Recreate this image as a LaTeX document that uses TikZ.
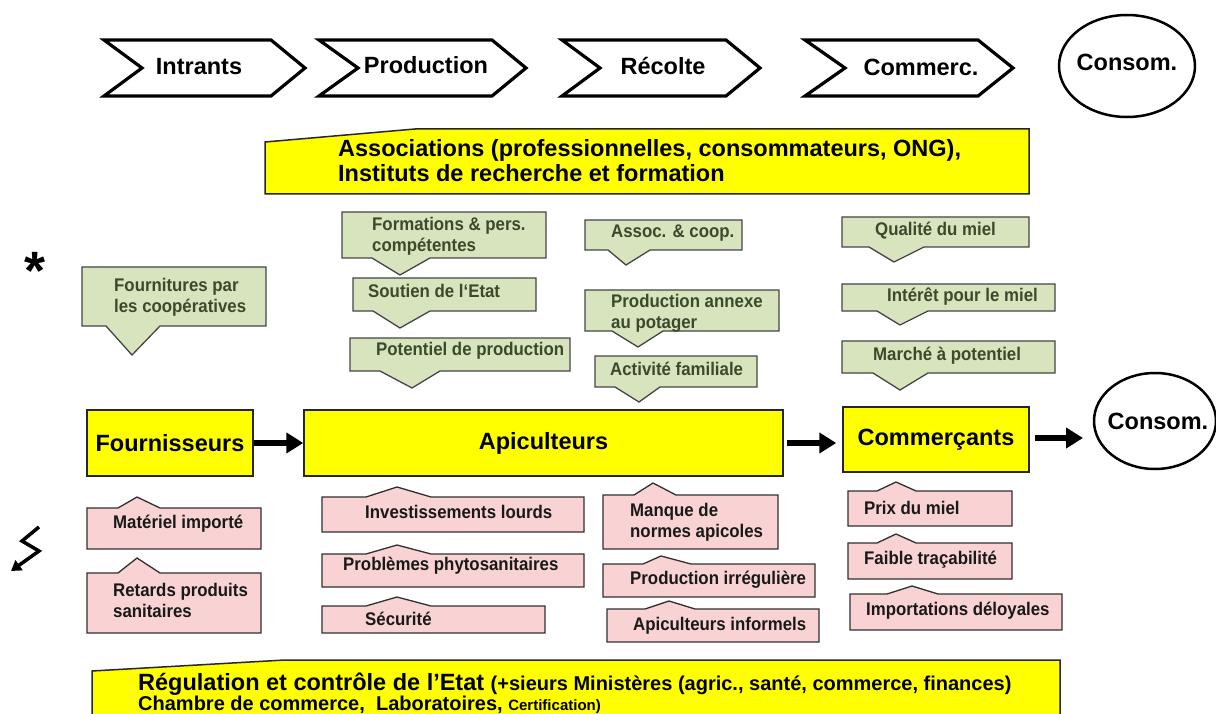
\documentclass[tikz,border=0pt]{standalone}
\usepackage{fontspec}
\setmainfont{Liberation Sans}
\newfontfamily\narrowfont[FakeStretch=0.92]{Liberation Sans}
\usetikzlibrary{arrows.meta,shapes.geometric}
\definecolor{gfill}{HTML}{D7E4BD}
\definecolor{gtext}{HTML}{3B4A2C}
\definecolor{gline}{HTML}{454545}
\definecolor{pfill}{HTML}{F9D3D3}
\definecolor{pline}{HTML}{303030}
\definecolor{ylw}{HTML}{FFFF00}
\newcommand\gcallshape[8]{\draw[gcall] (#1,#2) -- (#3,#2) -- (#3,#4) -- (#8,#4) -- (#6,#7) -- (#5,#4) -- (#1,#4) -- cycle;}
\newcommand\pcallshape[8]{\draw[pcall] (#1,#2) -- (#5,#2) -- (#6,#7) -- (#8,#2) -- (#3,#2) -- (#3,#4) -- (#1,#4) -- cycle;}
\tikzset{
  chev/.style={draw=black, line width=3.2pt, line join=miter, fill=white},
  ybox/.style={draw=black!85, line width=1.5pt, fill=ylw},
  gcall/.style={draw=gline, line width=1.3pt, fill=gfill, line join=miter},
  pcall/.style={draw=pline, line width=1.3pt, fill=pfill, line join=miter},
  big/.style={font=\fontsize{23.5}{27}\selectfont\bfseries, inner sep=0pt},
  gtxt/.style={font=\narrowfont\fontsize{18.3}{21}\selectfont\bfseries, text=gtext, inner sep=0pt, anchor=west, align=left},
  ptxt/.style={font=\narrowfont\fontsize{18.3}{21}\selectfont\bfseries, text=black!90, inner sep=0pt, anchor=west, align=left},
  flow/.style={line width=6pt, -{Triangle[length=17pt,width=20pt]}},
  cons/.style={draw=black, line width=2.5pt, ellipse, fill=white, inner sep=0pt},
}
\begin{document}
\begin{tikzpicture}[x=1pt,y=-1pt]
\useasboundingbox (0,0) rectangle (1216,714);
\clip (0,0) rectangle (1216,714);
% ---- top chevrons
\draw[chev] (104,40) -- (271,40) -- (305,68) -- (271,96) -- (104,96) -- (142,68) -- cycle;
\node[big] (intr) at (199,67) {Intrants};
\draw[chev] (319,40) -- (492,40) -- (526,68) -- (492,96) -- (319,96) -- (358,68) -- cycle;
\node[big] (prod) at (426,65) {Production};
\draw[chev] (562,40) -- (726,40) -- (760,68) -- (726,96) -- (562,96) -- (600,68) -- cycle;
\node[big] (reco) at (663,66) {Récolte};
\draw[chev] (805,40) -- (978,40) -- (1013,68) -- (978,96) -- (805,96) -- (845,68) -- cycle;
\node[big] (comc) at (921,67) {Commerc.};
\node[cons, minimum width=136pt, minimum height=102pt] (cons1) at (1127,66) {};
\node[big] (cons1t) at (1127,62) {Consom.};
% ---- associations banner
\draw[ybox] (265,142) -- (415,129) -- (1029,129) -- (1029,194) -- (265,194) -- cycle;
\node[big, anchor=west, align=left, font=\fontsize{23.5}{25}\selectfont\bfseries] (assoc) at (338,161)
  {Associations (professionnelles, consommateurs, ONG),\\Instituts de recherche et formation};
% ---- green callouts
\gcallshape{82}{267}{266}{326}{106}{132}{355}{160}
\node[gtxt] (g1) at (114,297) {Fournitures par\\les coopératives};
\gcallshape{342}{212}{546}{258}{372}{400}{275}{430}
\node[gtxt] (g2) at (372,236) {Formations \& pers.\\compétentes};
\gcallshape{353}{278}{536}{311}{373}{400}{328}{430}
\node[gtxt] (g3) at (368,291) {Soutien de l‘Etat};
\gcallshape{350}{338}{570}{371}{380}{412}{388}{440}
\node[gtxt] (g4) at (376,351) {Potentiel de production};
\gcallshape{585}{220}{742}{250}{608}{626}{265}{650}
\node[gtxt] (g5) at (611,233) {Assoc. \& coop.};
\gcallshape{585}{290}{779}{331}{612}{638}{347}{663}
\node[gtxt] (g6) at (611,313) {Production annexe\\au potager};
\gcallshape{595}{356}{757}{387}{615}{639}{402}{660}
\node[gtxt] (g7) at (610,369) {Activité familiale};
\gcallshape{842}{217}{1029}{247}{869}{894}{262}{924}
\node[gtxt] (g8) at (875,231) {Qualité du miel};
\gcallshape{842}{284}{1055}{311}{877}{900}{325}{928}
\node[gtxt] (g9) at (887,297) {Intérêt pour le miel};
\gcallshape{842}{341}{1055}{373}{873}{900}{390}{928}
\node[gtxt] (g10) at (873,356) {Marché à potentiel};
% ---- middle chain
\node[ybox, big, minimum width=166pt, minimum height=66pt] (four) at (170,443) {Fournisseurs};
\node[ybox, big, minimum width=479pt, minimum height=66pt] (api) at (543.5,443) {Apiculteurs};
\node[ybox, big, minimum width=186pt, minimum height=65pt] (com) at (936,439.5) {Commerçants};
\node[cons, minimum width=122pt, minimum height=96pt] (cons2) at (1155,421) {};
\node[big] (cons2t) at (1158,421) {Consom.};
\coordinate (c2in) at (1083,438);
\draw[flow] (four.east) -- (api.west);
\draw[flow] ([xshift=3pt]api.east) -- ([xshift=-6pt]com.west |- api.east);
\draw[flow] ([xshift=5pt]com.east |- c2in) -- (c2in);
% ---- pink callouts
\pcallshape{87}{508}{261}{549}{118}{137}{497}{160}
\node[ptxt] (p1) at (113,524) {Matériel importé};
\pcallshape{87}{573}{261}{633}{118}{137}{558}{160}
\node[ptxt] (p2) at (113,600) {Retards produits\\sanitaires};
\pcallshape{322}{497}{584}{532}{366}{397}{487}{431}
\node[ptxt] (p3) at (365,512) {Investissements lourds};
\pcallshape{322}{554}{584}{587}{366}{397}{545}{431}
\node[ptxt] (p4) at (343,566) {Problèmes phytosanitaires};
\pcallshape{322}{606}{545}{633}{366}{397}{597}{431}
\node[ptxt] (p5) at (365,619) {Sécurité};
\pcallshape{603}{495}{778}{549}{634}{653}{483}{676}
\node[ptxt] (p6) at (630,522) {Manque de\\normes apicoles};
\pcallshape{603}{564}{815}{597}{643}{661}{556}{691}
\node[ptxt] (p7) at (630,580) {Production irrégulière};
\pcallshape{607}{609}{819}{642}{645}{669}{601}{695}
\node[ptxt] (p8) at (633,626) {Apiculteurs informels};
\pcallshape{848}{491}{1012}{526}{877}{896}{482}{916}
\node[ptxt] (p9) at (864,508) {Prix du miel};
\pcallshape{848}{543}{1012}{579}{877}{896}{534}{916}
\node[ptxt] (p10) at (864,560) {Faible traçabilité};
\pcallshape{850}{594}{1062}{630}{887}{912}{586}{938}
\node[ptxt] (p11) at (866,611) {Importations déloyales};
% ---- regulation banner
\draw[ybox] (92,671) -- (285,660) -- (1060,660) -- (1060,730) -- (92,730) -- cycle;
\node[inner sep=0pt, anchor=base west, font=\bfseries] (reg1) at (138,690)
  {{\fontsize{23.5}{25}\selectfont Régulation et contrôle de l’Etat }{\fontsize{20}{22}\selectfont(+sieurs Ministères (agric., santé, commerce, finances)}};
\node[inner sep=0pt, anchor=base west, font=\bfseries] (reg2) at (138,710)
  {{\fontsize{20}{22}\selectfont Chambre de commerce,\ \ Laboratoires, }{\fontsize{15}{17}\selectfont Certification)}};
% ---- symbols
\node[inner sep=0pt, anchor=base, font=\fontsize{54}{54}\selectfont\bfseries] (star) at (35,290) {*};
\coordinate (z1) at (39,527);
\coordinate (z2) at (22,541);
\coordinate (z3) at (39,551);
\coordinate (z4) at (11,571);
\draw[line width=3.5pt, line join=miter, -{Triangle[length=10pt,width=12pt]}] (z1) -- (z2) -- (z3) -- (z4);
\end{tikzpicture}
\end{document}
